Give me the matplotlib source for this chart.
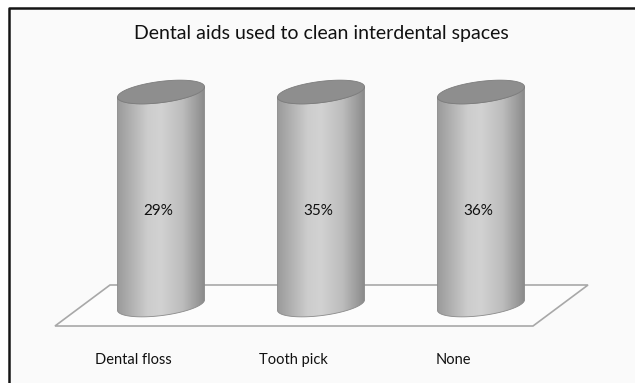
import numpy as np
import matplotlib
matplotlib.use('Agg')
import matplotlib.pyplot as plt
from matplotlib.patches import Polygon, Rectangle
from matplotlib.lines import Line2D
from matplotlib.colors import LinearSegmentedColormap

categories = ['Dental floss', 'Tooth pick', 'None']
values = [29, 35, 36]
title = 'Dental aids used to clean interdental spaces'

plt.rcParams['font.family'] = ['Lato', 'DejaVu Sans']

W, H = 635, 383
fig = plt.figure(figsize=(W / 100, H / 100), dpi=100)
fig.patch.set_facecolor('white')

# chart area, its frame is cut off at the right and bottom in the original
fig.add_artist(Rectangle((9 / W, 0), 1, 1 - 8 / H, transform=fig.transFigure,
                         facecolor='#fafafa', edgecolor='none', zorder=-3))
fig.add_artist(Line2D([9 / W, 9 / W, 1], [0, 1 - 8 / H, 1 - 8 / H], transform=fig.transFigure,
                      color='#151515', lw=1.8, zorder=-3))

# floor of the 3D plot, in pixels
floor_px = [(110, 285), (588, 285), (533, 326), (55, 326)]
fig.add_artist(Polygon([(x / W, 1 - y / H) for x, y in floor_px], closed=True,
                       transform=fig.transFigure, facecolor='#fcfcfc',
                       edgecolor='#a8a8a8', lw=1.2, zorder=-2))

fig.text(321.5 / W, 1 - 33 / H, title, ha='center', va='center', fontsize=14, color='#111111')

# 213 px per 100%, padded so the ellipses are not clipped
pad = 0.15
ax = fig.add_axes([81 / W, (78 - pad * 213) / H, 480 / W, (1 + 2 * pad) * 213 / H])
ax.set_axis_off()
ax.patch.set_visible(False)

# one series shown as a 100% stacked column: every cylinder fills the full height
vals = np.array(values, dtype=float)
heights = vals / vals

cmap = LinearSegmentedColormap.from_list('cyl', [(0, '#9a9a9a'), (0.35, '#cdcdcd'),
                                                 (0.5, '#d2d2d2'), (0.75, '#bcbcbc'),
                                                 (1, '#8a8a8a')])
a = 0.272        # half width
b = 0.05         # half height of the ellipses
k = 0.09         # tilt of the ellipses
t = np.linspace(0, 2 * np.pi, 100)

for i, h in enumerate(heights):
    tl = np.linspace(np.pi, 2 * np.pi, 60)
    bottom = [(i + a * np.cos(s), b * np.sin(s) + k * a * np.cos(s)) for s in tl]
    top = [(i + a * np.cos(s), h + b * np.sin(s) + k * a * np.cos(s)) for s in tl[::-1]]
    body = Polygon(bottom + top, closed=True, facecolor='none', edgecolor='#8a8a8a', lw=0.6, zorder=3)
    ax.add_patch(body)
    grad = np.linspace(0, 1, 200).reshape(1, -1)
    im = ax.imshow(grad, cmap=cmap, extent=[i - a, i + a, -0.1, h + 0.1],
                   aspect='auto', zorder=2)
    im.set_clip_path(body)
    cap = Polygon(np.column_stack([i + a * np.cos(t), h + b * np.sin(t) + k * a * np.cos(t)]),
                  closed=True, facecolor='#8e8e8e', edgecolor='#7c7c7c', lw=0.6, zorder=4)
    ax.add_patch(cap)
    ax.text(i - 0.02, h * 0.44, f'{values[i]}%', ha='center', va='center',
            fontsize=11, color='#111111', zorder=5)
    ax.text(i - 0.17, -0.258, categories[i], ha='center', va='center',
            fontsize=10.5, color='#111111', clip_on=False)

ax.set_xlim(-0.5, 2.5)
ax.set_ylim(-pad, 1 + pad)

fig.savefig('out.png', dpi=100)
